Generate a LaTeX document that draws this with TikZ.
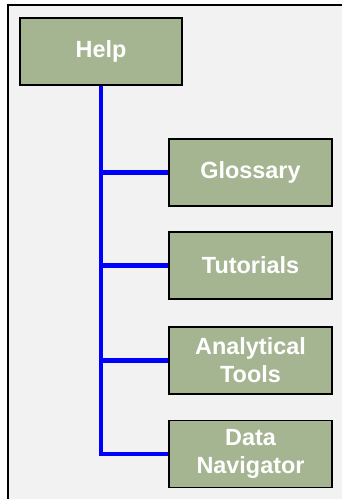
\documentclass[tikz,border=0pt]{standalone}
\usepackage{fontspec}
\setmainfont{Liberation Sans}
\definecolor{boxgreen}{HTML}{A5B592}
\definecolor{panelgray}{HTML}{F2F2F2}
\tikzset{
  menubox/.style={draw=black, fill=boxgreen, line width=1.6bp, inner sep=0pt,
    minimum width=163bp, minimum height=67bp, align=center,
    text=white, font=\fontsize{23.5}{28}\selectfont\bfseries},
  trunk/.style={draw=blue, line width=4.5bp}
}
\begin{document}
\begin{tikzpicture}[x=1bp,y=-1bp]
        % Page and panel
        \useasboundingbox[fill=white] (0,0) rectangle (341,499);
        \draw[fill=panelgray, line width=1.6bp] (8,5) rectangle (350,510);

        % Top item
        \node[menubox, minimum width=162bp] (help) at (101,51.5) {Help};

        % Sub items
        \node[menubox] (gloss) at (250.5,172.5) {Glossary};
        \node[menubox] (tut) at (250.5,265.5) {Tutorials};
        \node[menubox] (tools) at (250.5,360.5) {Analytical\\Tools};
        \node[menubox] (data) at (250.5,454) {Data\\Navigator};

        % Draw the tree lines
        \draw[trunk] (help.south) -- (help.south |- data.west) -- (data.west);
        \draw[trunk] (help.south |- gloss.west) -- (gloss.west);
        \draw[trunk] (help.south |- tut.west) -- (tut.west);
        \draw[trunk] (help.south |- tools.west) -- (tools.west);

    \end{tikzpicture}
\end{document}
